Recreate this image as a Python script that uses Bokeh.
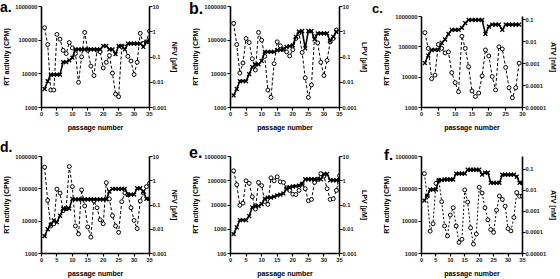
from bokeh.plotting import figure
from bokeh.models import Range1d, LogScale, LogAxis, FixedTicker, Div
from bokeh.layouts import column, row
from bokeh.embed import file_html
from bokeh.resources import INLINE

FONT = "Liberation Sans"
TICK_FONT = "'Liberation Sans Narrow', 'Liberation Sans'"

# ---------------- data ----------------
A_PASSAGE = list(range(1, 36))
A_RT = [234000, 74000, 3300, 3300, 148000, 107000, 50000, 40000, 85000, 59000,
        40000, 5600, 32000, 170000, 50000, 17000, 8900, 50000, 45000, 15000,
        22000, 35000, 10500, 2500, 2100, 63000, 63000, 33000, 24000, 9500,
        22000, 160000, 79000, 89000, 186000]
A_NFV = [0.0054, 0.011, 0.02, 0.02, 0.02, 0.02, 0.063, 0.063, 0.074, 0.094,
         0.2, 0.2, 0.2, 0.2, 0.2, 0.2, 0.2, 0.2, 0.2, 0.275,
         0.275, 0.2, 0.2, 0.13, 0.275, 0.275, 0.2, 0.34, 0.34, 0.34,
         0.34, 0.34, 0.25, 0.4, 0.46]

B_PASSAGE = list(range(1, 35))
B_RT = [316000, 74000, 10500, 21000, 112000, 85000, 28000, 13000, 170000, 100000,
        33000, 3300, 2000, 20000, 89000, 68000, 54000, 45000, 34000, 52000,
        112000, 160000, 43000, 7600, 2000, 4700, 126000, 83000, 22000, 8900,
        25000, 89000, 112000, 200000]
B_LPV = [0.003, 0.0054, 0.011, 0.011, 0.011, 0.021, 0.04, 0.051, 0.051, 0.07,
         0.16, 0.16, 0.16, 0.16, 0.185, 0.19, 0.2, 0.25, 0.27, 0.29,
         0.63, 1.0, 1.07, 0.22, 1.07, 1.07, 0.5, 0.86, 0.86, 0.86,
         0.86, 0.43, 0.63, 1.0]

C_PASSAGE = list(range(1, 30))
C_RT = [295000, 89000, 8900, 11700, 120000, 89000, 63000, 68000, 14000, 6600,
        3300, 224000, 89000, 22000, 3500, 2300, 3000, 11000, 79000, 50000,
        10500, 3800, 100000, 85000, 21000, 4500, 2100, 4500, 29000]
C_ATV = [0.00105, 0.0023, 0.0042, 0.0042, 0.0042, 0.0087, 0.0123, 0.022, 0.034, 0.034,
         0.034, 0.042, 0.068, 0.096, 0.096, 0.096, 0.096, 0.096, 0.022, 0.048,
         0.059, 0.059, 0.059, 0.034, 0.059, 0.059, 0.059, 0.059, 0.059]

D_PASSAGE = list(range(1, 36))
D_RT = [468000, 44000, 7100, 8300, 98000, 74000, 21000, 24500, 490000, 117000,
        7100, 4000, 93000, 29500, 6600, 3200, 42000, 26000, 11000, 8300,
        155000, 49000, 14800, 7100, 4500, 40000, 74000, 66000, 26000, 10500,
        5900, 42000, 74000, 117000, 148000]
D_NFV = [0.0052, 0.01, 0.0154, 0.023, 0.0195, 0.036, 0.071, 0.071, 0.071, 0.18,
         0.17, 0.17, 0.17, 0.17, 0.17, 0.17, 0.17, 0.17, 0.17, 0.17,
         0.17, 0.36, 0.46, 0.46, 0.46, 0.46, 0.46, 0.27, 0.27, 0.27,
         0.49, 0.49, 0.36, 0.18, 0.18]

E_PASSAGE = list(range(1, 36))
E_RT = [257000, 69000, 9700, 12000, 99000, 78000, 22000, 6800, 85000, 63000,
        14000, 10600, 132000, 99000, 145000, 90000, 85000, 50000, 40000, 28000,
        27000, 40000, 73000, 47000, 15000, 17000, 85000, 115000, 195000, 155000,
        47000, 17000, 18000, 40000, 162000]
E_LPV = [0.0063, 0.012, 0.024, 0.024, 0.024, 0.035, 0.08, 0.09, 0.09, 0.11,
         0.18, 0.2, 0.2, 0.22, 0.25, 0.27, 0.3, 0.47, 0.54, 0.58,
         0.6, 0.63, 0.75, 1.15, 1.15, 1.15, 1.15, 1.15, 1.15, 1.9,
         1.9, 1.05, 1.05, 1.05, 1.05]

F_PASSAGE = list(range(1, 36))
F_RT = [295000, 59000, 4900, 8300, 148000, 186000, 40000, 7100, 3500, 15500,
        26000, 7100, 2200, 2750, 93000, 39000, 6200, 1950, 4000, 112000,
        74000, 26000, 11000, 5500, 4500, 22000, 60000, 47000, 29000, 5900,
        5000, 13000, 77000, 59000, 59000]
F_ATV = [0.0033, 0.0056, 0.011, 0.011, 0.011, 0.03, 0.031, 0.033, 0.033, 0.033,
         0.033, 0.063, 0.063, 0.063, 0.063, 0.096, 0.096, 0.096, 0.096, 0.096,
         0.056, 0.07, 0.07, 0.023, 0.023, 0.023, 0.023, 0.056, 0.056, 0.056,
         0.056, 0.056, 0.045, 0.023, 0.023]

PANEL_LETTERS = ["a.", "b.", "c.", "d.", "e.", "f."]
X_TICKS_35 = [0, 5, 10, 15, 20, 25, 30, 35]
X_TICKS_30 = [0, 5, 10, 15, 20, 25, 30]
RT_TICKS = [1000, 10000, 100000, 1000000]
RT_LABELS = ["1000", "10000", "100000", "1000000"]
RT_TICKS_E = [100, 1000, 10000, 100000, 1000000]
RT_LABELS_E = ["100", "1000", "10000", "100000", "1000000"]
UM_TICKS = [0.001, 0.01, 0.1, 1, 10]
UM_LABELS = ["0.001", "0.01", "0.1", "1", "10"]
NM_TICKS = [0.00001, 0.0001, 0.001, 0.01, 0.1]
NM_LABELS = ["0.00001", "0.0001", "0.001", "0.01", "0.1"]


def style_axis(ax, label_standoff=2):
    ax.axis_line_width = 1.6
    ax.axis_line_color = "black"
    ax.major_tick_line_width = 1.2
    ax.major_tick_line_color = "black"
    ax.major_tick_out = 3
    ax.major_tick_in = 0
    ax.minor_tick_line_color = None
    ax.major_label_text_font = TICK_FONT
    ax.major_label_text_font_size = "5.7px"
    ax.major_label_text_font_style = "bold"
    ax.major_label_text_color = "#1a1a1a"
    ax.major_label_standoff = 1
    ax.axis_label_text_font = FONT
    ax.axis_label_text_font_size = "7px"
    ax.axis_label_text_font_style = "bold"
    ax.axis_label_text_color = "black"
    ax.axis_label_standoff = label_standoff


def panel(passages, rt, drug, drug_name,
          x_max, x_ticks, rt_ticks, rt_labels, dr_ticks, dr_labels,
          left_range, right_range, left_bounds, right_bounds,
          width, height, bl, br, bt, bb, dash):
    p = figure(width=width, height=height, title_location=None,
               x_range=Range1d(0, x_max), y_range=Range1d(*left_range),
               y_axis_type="log", output_backend="svg", toolbar_location=None,
               min_border_left=bl, min_border_right=br,
               min_border_top=bt, min_border_bottom=bb)
    p.outline_line_color = None
    p.xgrid.visible = False
    p.ygrid.visible = False
    p.background_fill_color = "white"
    p.border_fill_color = "white"

    p.extra_y_ranges = {"r": Range1d(*right_range)}
    p.extra_y_scales = {"r": LogScale()}

    xa = p.xaxis[0]
    xa.ticker = FixedTicker(ticks=x_ticks)
    xa.axis_label = "passage number"
    style_axis(xa, label_standoff=5)

    ya = p.yaxis[0]
    ya.ticker = FixedTicker(ticks=rt_ticks)
    ya.major_label_overrides = dict(zip(rt_ticks, rt_labels))
    ya.axis_label = "RT activity (CPM)"
    ya.bounds = left_bounds
    style_axis(ya)

    ra = LogAxis(y_range_name="r", ticker=FixedTicker(ticks=dr_ticks),
                 axis_label=drug_name, bounds=right_bounds)
    ra.major_label_overrides = dict(zip(dr_ticks, dr_labels))
    style_axis(ra, label_standoff=1)
    ra.major_label_standoff = 0
    p.add_layout(ra, "right")

    # RT activity: dashed line with open circles (left axis)
    p.line(passages, rt, line_color="black", line_width=1.0, line_dash=dash)
    p.scatter(passages, rt, marker="circle", size=3.9, fill_color="white",
              line_color="black", line_width=1.0)
    # drug concentration: solid line with x markers (right axis)
    p.line(passages, drug, y_range_name="r", line_color="black", line_width=1.6)
    p.scatter(passages, drug, y_range_name="r", marker="x", size=5.5,
              line_color="black", line_width=1.3)
    return p


def letter_div(text, left, top, size):
    return Div(text=text, styles={
        "position": "absolute", "left": f"{left}px", "top": f"{top}px",
        "font-family": FONT, "font-weight": "bold", "font-size": f"{size}px",
        "line-height": "1", "margin": "0", "padding": "0", "color": "black",
        "z-index": "10"})


TOP_B, TOP_BB = 6, 32
BOT_B, BOT_BB = 17, 24

pa = panel(A_PASSAGE, A_RT, A_NFV, "NFV [µM]", 35, X_TICKS_35,
           RT_TICKS, RT_LABELS, UM_TICKS, UM_LABELS, (1000, 1000000), (0.001, 10),
           (1000, 1000000), (0.001, 10),
           185, 139, 37, 36, TOP_B, TOP_BB, "3 2")
pb = panel(B_PASSAGE, B_RT, B_LPV, "LPV [µM]", 35, X_TICKS_35,
           RT_TICKS, RT_LABELS, UM_TICKS, UM_LABELS, (1000, 1000000), (0.001, 10),
           (1000, 1000000), (0.001, 10),
           185, 139, 45, 28, TOP_B, TOP_BB, "3 2")
pc = panel(C_PASSAGE, C_RT, C_ATV, "ATV [nM]", 30, X_TICKS_30,
           RT_TICKS, RT_LABELS, NM_TICKS, NM_LABELS, (1000, 2140000), (0.00001, 0.39),
           (1000, 1000000), (0.00001, 0.137),
           190, 139, 51, 27, TOP_B, TOP_BB, "3 2")
pd = panel(D_PASSAGE, D_RT, D_NFV, "NFV [µM]", 35, X_TICKS_35,
           RT_TICKS, RT_LABELS, UM_TICKS, UM_LABELS, (1000, 1000000), (0.001, 10),
           (1000, 1000000), (0.001, 10),
           185, 140, 37, 36, BOT_B, BOT_BB, "3 2")
pe = panel(E_PASSAGE, E_RT, E_LPV, "LPV [µM]", 35, X_TICKS_35,
           RT_TICKS_E, RT_LABELS_E, UM_TICKS, UM_LABELS, (100, 1000000), (0.001, 10),
           (100, 1000000), (0.001, 10),
           185, 140, 45, 28, BOT_B, BOT_BB, "3 2")
pf = panel(F_PASSAGE, F_RT, F_ATV, "ATV [nM]", 35, X_TICKS_35,
           RT_TICKS, RT_LABELS, NM_TICKS, NM_LABELS, (1000, 1000000), (0.00001, 0.41),
           (1000, 1000000), (0.00001, 0.41),
           190, 140, 51, 27, BOT_B, BOT_BB, "2 2")

letters = [
    letter_div(PANEL_LETTERS[0], 0, 0, 14),
    letter_div(PANEL_LETTERS[1], 189, 1, 16),
    letter_div(PANEL_LETTERS[2], 372, 2, 13),
    letter_div(PANEL_LETTERS[3], 0, 140, 14),
    letter_div(PANEL_LETTERS[4], 189, 145, 16),
    letter_div(PANEL_LETTERS[5], 384, 147, 15),
]

layout = column(row(pa, pb, pc, spacing=0), row(pd, pe, pf, spacing=0), *letters,
                spacing=0)

open("out.html", "w").write(file_html(layout, INLINE))
